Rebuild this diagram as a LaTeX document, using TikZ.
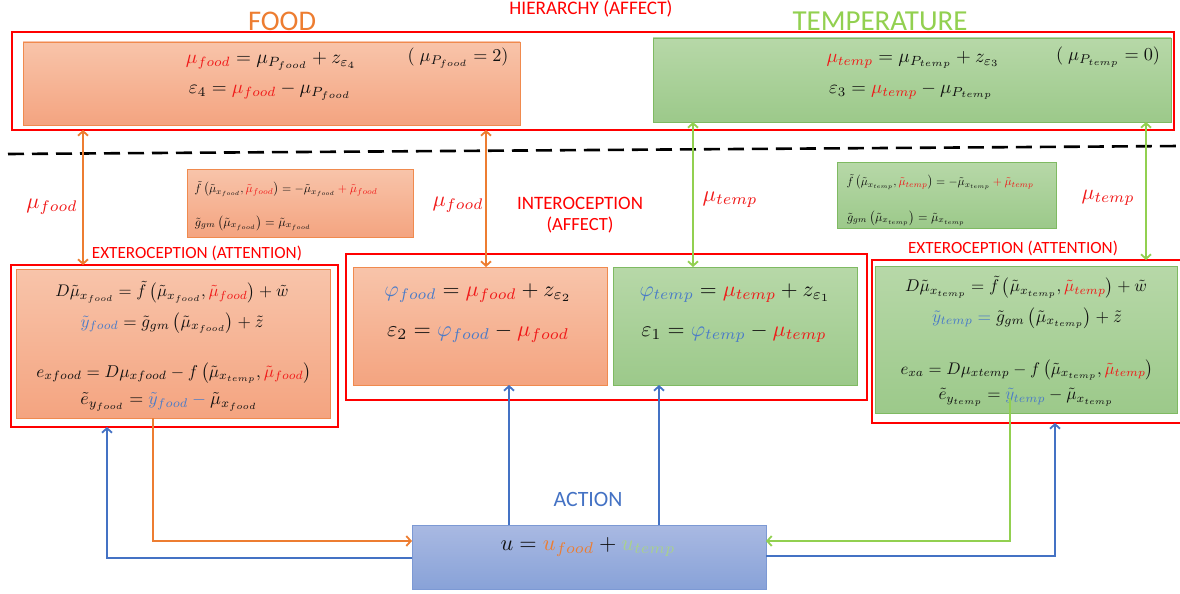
\documentclass[tikz,border=0pt]{standalone}
\usepackage{fontspec}
\setmainfont{Carlito}
\usepackage{graphicx}
\usetikzlibrary{arrows.meta}
\definecolor{fred}{HTML}{FF0000}
\definecolor{mred}{HTML}{F01818}
\definecolor{mblue}{HTML}{4A7BC8}
\definecolor{mora}{HTML}{ED7D31}
\definecolor{mgre}{HTML}{A9D18E}
\definecolor{aora}{HTML}{ED7D31}
\definecolor{agre}{HTML}{92D050}
\definecolor{ablu}{HTML}{4472C4}
\definecolor{otop}{HTML}{F8C4AA}
\definecolor{obot}{HTML}{F4A480}
\definecolor{oedge}{HTML}{F08A4E}
\definecolor{gtop}{HTML}{B7D8A8}
\definecolor{gbot}{HTML}{9CC98A}
\definecolor{gedge}{HTML}{7FBA62}
\definecolor{btop}{HTML}{A9B9E2}
\definecolor{bbot}{HTML}{88A2D8}
\definecolor{bedge}{HTML}{7C99D4}
\definecolor{ink}{HTML}{111111}
\newcommand{\cRed}[1]{\textcolor{mred}{#1}}
\newcommand{\cBlue}[1]{\textcolor{mblue}{#1}}
\newcommand{\cOra}[1]{\textcolor{mora}{#1}}
\newcommand{\cGre}[1]{\textcolor{mgre}{#1}}
\newcommand{\fw}[2]{\resizebox{#1pt}{!}{\color{ink}$#2$}}
\newcommand{\tw}[2]{\resizebox{#1pt}{!}{#2}}
\begin{document}
\begin{tikzpicture}[x=1pt,y=-1pt,
  every node/.style={inner sep=0pt, outer sep=0pt},
  boxbase/.style={anchor=north west, line width=0.8pt},
  obox/.style={boxbase, draw=oedge, top color=otop, bottom color=obot},
  gbox/.style={boxbase, draw=gedge, top color=gtop, bottom color=gbot},
  bbox/.style={boxbase, draw=bedge, top color=btop, bottom color=bbot},
  redframe/.style={anchor=north west, draw=fred, line width=2.4pt},
  lbl/.style={text=fred},
  oarr/.style={draw=aora, line width=1.8pt, -{Straight Barb[length=4.5pt,width=10pt]}},
  garr/.style={draw=agre, line width=1.8pt, -{Straight Barb[length=4.5pt,width=10pt]}},
  barr/.style={draw=ablu, line width=1.8pt, -{Straight Barb[length=4.5pt,width=10pt]}},
  odbl/.style={draw=aora, line width=1.8pt, {Straight Barb[length=4.5pt,width=10pt]}-{Straight Barb[length=4.5pt,width=10pt]}},
  gdbl/.style={draw=agre, line width=1.8pt, {Straight Barb[length=4.5pt,width=10pt]}-{Straight Barb[length=4.5pt,width=10pt]}},
  dashline/.style={draw=black, line width=2.6pt, dash pattern=on 16pt off 8pt}
]
\useasboundingbox (0,0) rectangle (1180,594);

% ---- boxes ----
\node[obox, minimum width=497pt, minimum height=83pt] (hfood) at (23,42) {};
\node[gbox, minimum width=518pt, minimum height=84pt] (htemp) at (653,38) {};
\node[redframe, minimum width=1162pt, minimum height=98pt] (hframe) at (12,32) {};

\node[obox, minimum width=226pt, minimum height=68pt] (sfood) at (187,169) {};
\node[gbox, minimum width=219pt, minimum height=66pt] (stemp) at (837,162) {};

\node[obox, minimum width=314pt, minimum height=149pt] (exfB) at (16,269) {};
\node[redframe, minimum width=327pt, minimum height=162pt] (exfF) at (11,265) {};

\node[obox, minimum width=254pt, minimum height=118pt] (inFood) at (353,267) {};
\node[gbox, minimum width=244pt, minimum height=118pt] (inTemp) at (613,267) {};
\node[redframe, minimum width=521pt, minimum height=146pt] (inF) at (346,254) {};

\node[gbox, minimum width=302pt, minimum height=147pt] (extB) at (875,266) {};
\node[redframe, minimum width=316pt, minimum height=163pt] (extF) at (872,260) {};

\node[bbox, minimum width=354pt, minimum height=64pt] (action) at (412,525) {};

\draw[dashline] (8,154) -- (1180,146);

% ---- titles and labels ----
\node[text=aora] (tfood) at (282,21) {\tw{68}{FOOD}};
\node[lbl] (thier) at (591,9) {\tw{163}{HIERARCHY (AFFECT)}};
\node[text=agre] (ttemp) at (880,21) {\tw{175}{TEMPERATURE}};
\node[lbl] (tint1) at (580,203) {\tw{126}{INTEROCEPTION}};
\node[lbl] (tint2) at (580,225) {\tw{67}{(AFFECT)}};
\node[lbl] (text1) at (197,253) {\tw{210}{EXTEROCEPTION (ATTENTION)}};
\node[lbl] (text2) at (1013,248) {\tw{210}{EXTEROCEPTION (ATTENTION)}};
\node[text=ablu] (tact) at (588,499) {\tw{69}{ACTION}};

\node (mf1) at (52,207) {\fw{51}{\cRed{\mu_{food}}}};
\node (mf2) at (458,205) {\fw{51}{\cRed{\mu_{food}}}};
\node (mt1) at (730,200) {\fw{55}{\cRed{\mu_{temp}}}};
\node (mt2) at (1108,198) {\fw{53}{\cRed{\mu_{temp}}}};

% ---- hierarchy formulas ----
\node (hf1) at (271,61) {\fw{170}{\cRed{\mu_{food}} = \mu_{P_{food}} + z_{\varepsilon_4}}};
\node (hf2) at (458,58) {\fw{101}{(\;\mu_{P_{food}} = 2)}};
\node (hf3) at (270,91) {\fw{162}{\varepsilon_4 = \cRed{\mu_{food}} - \mu_{P_{food}}}};
\node (ht1) at (913,60) {\fw{173}{\cRed{\mu_{temp}} = \mu_{P_{temp}} + z_{\varepsilon_3}}};
\node (ht2) at (1108,57) {\fw{104}{(\;\mu_{P_{temp}} = 0)}};
\node (ht3) at (911,91) {\fw{164}{\varepsilon_3 = \cRed{\mu_{temp}} - \mu_{P_{temp}}}};

% ---- small formula boxes ----
\node (sf1) at (286,189) {\fw{183}{\tilde f\left(\tilde\mu_{x_{food}},\cRed{\tilde\mu_{food}}\right) = -\tilde\mu_{x_{food}} \mathbin{\cRed{+}} \cRed{\tilde\mu_{food}}}};
\node (sf2) at (253,223) {\fw{116}{\tilde g_{gm}\left(\tilde\mu_{x_{food}}\right) = \tilde\mu_{x_{food}}}};
\node (st1) at (940,182) {\fw{187}{\tilde f\left(\tilde\mu_{x_{temp}},\cRed{\tilde\mu_{temp}}\right) = -\tilde\mu_{x_{temp}} \mathbin{\cRed{+}} \cRed{\tilde\mu_{temp}}}};
\node (st2) at (906,218) {\fw{118}{\tilde g_{gm}\left(\tilde\mu_{x_{temp}}\right) = \tilde\mu_{x_{temp}}}};

% ---- exteroception food ----
\node (ef1) at (172,292) {\fw{233}{D\tilde\mu_{x_{food}} = \tilde f\left(\tilde\mu_{x_{food}},\cRed{\tilde\mu_{food}}\right) + \tilde w}};
\node (ef2) at (172,323) {\fw{183}{\cBlue{\tilde y_{food}} = \tilde g_{gm}\left(\tilde\mu_{x_{food}}\right) + \tilde z}};
\node (ef3) at (174,373) {\fw{275}{e_{xfood} = D\mu_{xfood} - f\left(\tilde\mu_{x_{temp}},\cRed{\tilde\mu_{food}}\right)}};
\node (ef4) at (169,402) {\fw{177}{\tilde e_{y_{food}} = \cBlue{\tilde y_{food}} \mathbin{\cBlue{-}} \tilde\mu_{x_{food}}}};

% ---- interoception ----
\node (if1) at (478,293) {\fw{187}{\cBlue{\varphi_{food}} = \cRed{\mu_{food}} + z_{\varepsilon_2}}};
\node (if2) at (478,333) {\fw{182}{\varepsilon_2 = \cBlue{\varphi_{food}} - \cRed{\mu_{food}}}};
\node (it1) at (735,293) {\fw{191}{\cBlue{\varphi_{temp}} = \cRed{\mu_{temp}} + z_{\varepsilon_1}}};
\node (it2) at (734,333) {\fw{185}{\varepsilon_1 = \cBlue{\varphi_{temp}} - \cRed{\mu_{temp}}}};

% ---- exteroception temp ----
\node (et1) at (1026,287) {\fw{242}{D\tilde\mu_{x_{temp}} = \tilde f\left(\tilde\mu_{x_{temp}},\cRed{\tilde\mu_{temp}}\right) + \tilde w}};
\node (et2) at (1027,318) {\fw{190}{\cBlue{\tilde y_{temp}} \mathrel{\cBlue{=}} \tilde g_{gm}\left(\tilde\mu_{x_{temp}}\right) + \tilde z}};
\node (et3) at (1027,370) {\fw{253}{e_{xa} = D\mu_{xtemp} - f\left(\tilde\mu_{x_{temp}},\cRed{\tilde\mu_{temp}}\right)}};
\node (et4) at (1026,397) {\fw{175}{\tilde e_{y_{temp}} = \cBlue{\tilde y_{temp}} - \tilde\mu_{x_{temp}}}};

% ---- action ----
\node (act) at (588,547) {\fw{175}{u = \cOra{u_{food}} + \cGre{u_{temp}}}};

% ---- connectors ----
\coordinate (xo1) at (83,0);
\coordinate (xo2) at (486,0);
\coordinate (xg1) at (693,0);
\coordinate (xg2) at (1146,0);
\coordinate (xb1) at (509,0);
\coordinate (xb2) at (659,0);
\coordinate (xb3) at (107,0);
\coordinate (xb4) at (1055,0);
\coordinate (xo3) at (153,0);
\coordinate (yo) at (0,541);
\coordinate (yb1) at (0,558);
\coordinate (yb2) at (0,556);
\coordinate (gstart) at (1010,398);

\draw[odbl] (xo1 |- hframe.south) -- (xo1 |- exfF.north);
\draw[odbl] (xo2 |- hframe.south) -- (xo2 |- inFood.north);
\draw[gdbl] (xg1 |- htemp.south) -- (xg1 |- inTemp.north);
\draw[gdbl] (xg2 |- htemp.south) -- (xg2 |- extF.north);

\draw[barr] (xb1 |- action.north) -- (xb1 |- inFood.south);
\draw[barr] (xb2 |- action.north) -- (xb2 |- inTemp.south);
\draw[barr] (action.west |- yb1) -| (xb3 |- exfF.south);
\draw[barr] (action.east |- yb2) -| (xb4 |- extF.south);
\draw[oarr] (xo3 |- exfB.south) |- (action.west |- yo);
\draw[garr] (gstart) |- (action.east |- yo);
\end{tikzpicture}
\end{document}
